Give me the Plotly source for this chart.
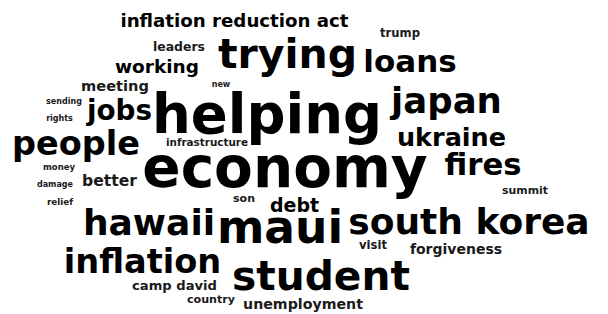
import plotly.graph_objects as go

# ---- data: words and their relative weights (font size in px at the reference) ----
words = ["inflation reduction act", "trump", "trying", "loans", "leaders", "working",
         "meeting", "new", "helping", "japan", "jobs", "sending", "rights", "people",
         "infrastructure", "ukraine", "economy", "fires", "money", "damage", "better",
         "summit", "relief", "son", "debt", "hawaii", "maui", "south korea", "visit",
         "forgiveness", "inflation", "student", "camp david", "country", "unemployment"]
weights = [18.2, 11.6, 41, 31, 12.4, 18.5,
           14.6, 8, 54.5, 35.5, 27.8, 8, 8, 33.5,
           10.4, 25.5, 56.5, 30.7, 8.5, 8, 15.6,
           10.9, 8.8, 11, 19, 36, 45.5, 36, 11.6,
           14, 33.6, 40.7, 13.1, 11.1, 14.2]

# ---- layout of the cloud (word centre x, baseline y in pixels) ----
xc = [234.5, 400, 287.5, 410, 179, 157,
      115, 221, 267, 446.5, 119.5, 64, 59.5, 76,
      207, 451.5, 285, 483, 59, 55, 109.5,
      525, 60, 244, 294.5, 149, 280, 469, 373,
      456, 142.5, 321, 174.5, 211, 303]
base = [27, 37, 68, 72, 51, 73,
        91, 87, 133, 113, 120, 104, 121, 155,
        146, 146, 187, 175, 170, 187, 186,
        194, 205, 202, 212, 235, 243, 234, 249,
        254, 273, 290, 290, 303, 309]

W, H = 608, 314
FONT = "DejaVu Sans, Verdana, sans-serif"

colors = ["#000000" if s >= 16 else "#1a1a1a" for s in weights]

fig = go.Figure(go.Scatter(
    x=xc,
    y=[b - 0.25 * s for b, s in zip(base, weights)],
    text=words,
    mode="text",
    textposition="middle center",
    textfont=dict(family=FONT, size=weights, color=colors, weight="bold"),
    hoverinfo="skip",
    showlegend=False,
))

fig.update_layout(
    width=W, height=H,
    margin=dict(l=0, r=0, t=0, b=0),
    paper_bgcolor="white", plot_bgcolor="white",
    xaxis=dict(range=[0, W], visible=False, fixedrange=True),
    yaxis=dict(range=[H, 0], visible=False, fixedrange=True),
)
fig.write_html("out.html", config={"displayModeBar": False},
               post_script="document.body.style.margin='0';document.body.style.overflow='hidden';")
